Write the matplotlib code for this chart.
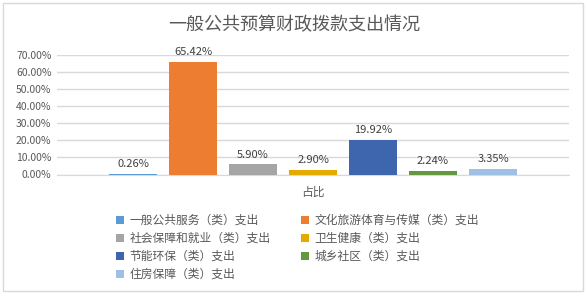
import matplotlib
matplotlib.use("Agg")
import matplotlib.pyplot as plt
from matplotlib.patches import Rectangle, Patch

plt.rcParams["font.family"] = ["Noto Sans CJK SC", "DejaVu Sans"]

# ---- data ----
title = "一般公共预算财政拨款支出情况"
category = "占比"
series = ["一般公共服务（类）支出", "文化旅游体育与传媒（类）支出",
          "社会保障和就业（类）支出", "卫生健康（类）支出",
          "节能环保（类）支出", "城乡社区（类）支出", "住房保障（类）支出"]
values = [0.26, 65.42, 5.90, 2.90, 19.92, 2.24, 3.35]  # percent
colors = ["#5B9BD5", "#ED7D31", "#A5A5A5", "#E5AA00",
          "#3D66AF", "#62993F", "#9DC0E4"]
yticks = [0, 10, 20, 30, 40, 50, 60, 70]

fig = plt.figure(figsize=(5.88, 2.97), dpi=100)
W, H = 588, 297
ax = fig.add_axes([57 / W, 1 - 174.5 / H, (569 - 57) / W, (174.5 - 54.5) / H])

# chart border
fig.patches.append(Rectangle((3 / W, 1 - 291 / H), 580 / W, 288 / H,
                             transform=fig.transFigure, fill=False,
                             edgecolor="#D9D9D9", linewidth=1))

# bars: 7 series in one category group
step = 60 / 512
width = 47.5 / 512
n = len(values)
for i, (name, v, c) in enumerate(zip(series, values, colors)):
    x = (i - (n - 1) / 2) * step
    ax.bar(x, v, width=width, color=c, label=name, zorder=3)
    ax.annotate(f"{v:.2f}%", (x, v), xytext=(0, 3.5), textcoords="offset points",
                ha="center", va="bottom", fontsize=8, color="#404040")

ax.set_xlim(-0.5, 0.5)
ax.set_ylim(0, 70)
ax.set_yticks(yticks)
ax.set_yticklabels([f"{t:.2f}%" for t in yticks], fontsize=7.5, color="#595959")
ax.set_xticks([0])
ax.set_xticklabels([category], fontsize=8.5, color="#595959")
ax.tick_params(length=0, pad=4)
ax.tick_params(axis="x", pad=8)
ax.grid(axis="y", color="#D9D9D9", linewidth=1, zorder=0)
for s in ["top", "right", "left"]:
    ax.spines[s].set_visible(False)
ax.spines["bottom"].set_color("#D9D9D9")

fig.text(0.5, 1 - 25 / H, title, ha="center", va="center",
         fontsize=13, color="#595959")

# legend: row-wise order in 2 columns
order = [0, 2, 4, 6, 1, 3, 5]
leg_handles = [Patch(facecolor=colors[i], edgecolor="none") for i in order]
leg_labels = [series[i] for i in order]
fig.legend(leg_handles, leg_labels, ncol=2, loc="upper left",
           bbox_to_anchor=(110 / W, 1 - 208 / H), frameon=False,
           fontsize=8.5, labelcolor="#595959", handlelength=0.7,
           handleheight=0.7, handletextpad=0.45, labelspacing=0.42,
           columnspacing=2.6, borderpad=0)

fig.savefig("out.png", dpi=100)
